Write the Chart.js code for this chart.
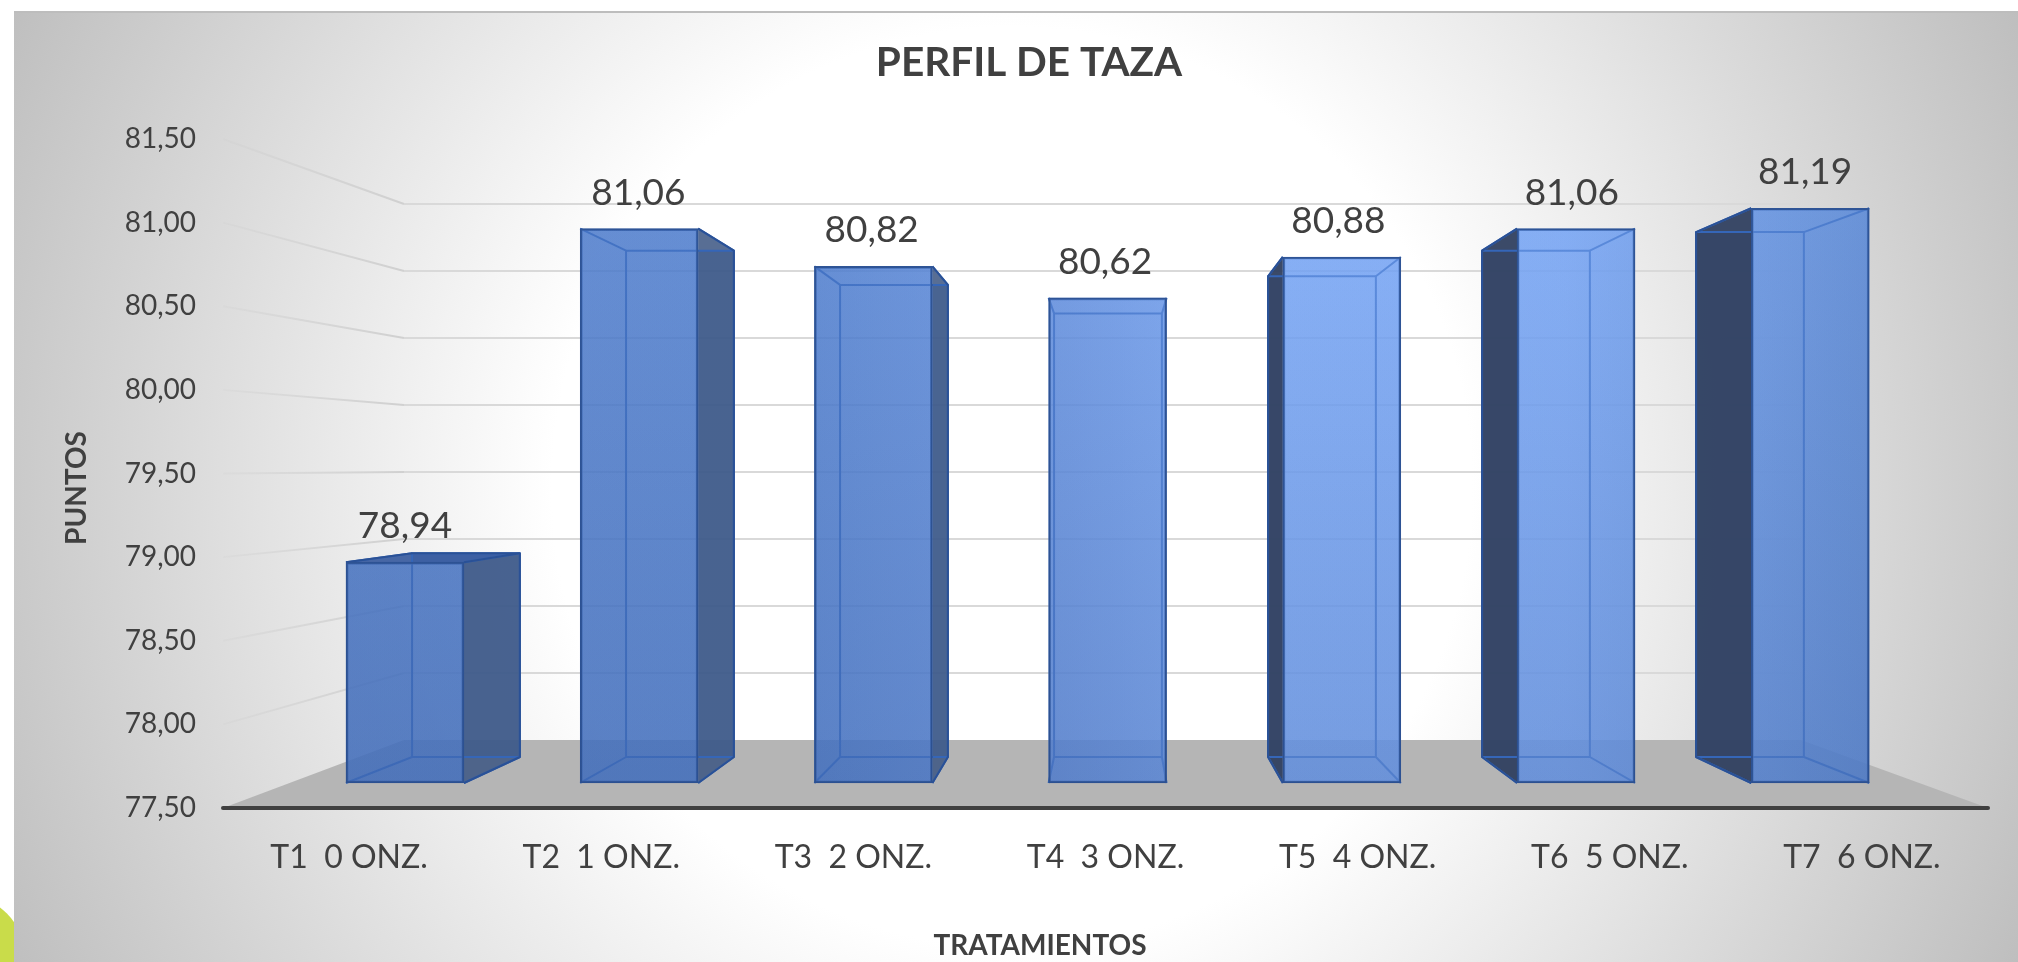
<!DOCTYPE html>
<html>
<head>
<meta charset="utf-8">
<title>Perfil de taza</title>
<script src="https://cdn.jsdelivr.net/npm/chart.js@4"></script>
<style>
  html, body { margin: 0; padding: 0; background: #fff; }
  canvas { display: block; }
</style>
</head>
<body>
<canvas id="chartTaza" width="2018" height="962"></canvas>
<script>
const categories = ['T1  0 ONZ.', 'T2  1 ONZ.', 'T3  2 ONZ.', 'T4  3 ONZ.', 'T5  4 ONZ.', 'T6  5 ONZ.', 'T7  6 ONZ.'];
const puntos = [78.94, 81.06, 80.82, 80.62, 80.88, 81.06, 81.19];
const valueLabels = ['78,94', '81,06', '80,82', '80,62', '80,88', '81,06', '81,19'];
const yTickLabels = ['77,50', '78,00', '78,50', '79,00', '79,50', '80,00', '80,50', '81,00', '81,50'];

const FONT = 'Lato, Carlito, sans-serif';
const TEXT = '#404040';

// how the flat scales map on to the 3d box
const wall = { left: 404, right: 1801, floor: 740, ratio: 536 / 669 };
const depth = { xk: 0.9137, xa: 95.95, yk: 0.9072, ya: 43.2, floor: 757 };

const backX = x => depth.xa + depth.xk * x;
const backY = y => depth.ya + depth.yk * y;

function barFill(ctx, alpha) {
  const g = ctx.createLinearGradient(346, 0, 1869, 0);
  const a = alpha;
  g.addColorStop(0, `rgba(78,124,204,${a})`);
  g.addColorStop(0.3, `rgba(78,126,208,${a})`);
  g.addColorStop(0.47, `rgba(98,144,226,${a})`);
  g.addColorStop(0.6, `rgba(118,166,248,${a})`);
  g.addColorStop(0.8, `rgba(118,166,248,${a})`);
  g.addColorStop(1, `rgba(90,138,218,${a})`);
  return g;
}

function poly(ctx, pts) {
  ctx.beginPath();
  pts.forEach((p, i) => i ? ctx.lineTo(p[0], p[1]) : ctx.moveTo(p[0], p[1]));
  ctx.closePath();
}

const panel = {
  id: 'panel',
  beforeDraw(chart) {
    const ctx = chart.ctx;
    // corner of the green shape behind the chart
    ctx.save();
    ctx.fillStyle = '#c9dc4a';
    ctx.beginPath();
    ctx.arc(-40, 960, 66, 0, Math.PI * 2);
    ctx.fill();

    const g = ctx.createRadialGradient(1012, 487, 460, 1012, 487, 1115);
    g.addColorStop(0, '#ffffff');
    g.addColorStop(1, '#bebebe');
    ctx.fillStyle = g;
    ctx.fillRect(14, 11, 2004, 951);
    ctx.fillStyle = '#bdbdbd';
    ctx.fillRect(14, 11, 2004, 2);
    ctx.restore();
  }
};

// back wall, side wall and floor
const room = {
  id: 'room',
  beforeDatasetsDraw(chart) {
    const ctx = chart.ctx;
    const y = chart.scales.y;
    const a = chart.chartArea;
    const toWall = py => wall.floor - (a.bottom - py) * wall.ratio;
    ctx.save();
    poly(ctx, [[a.left, a.bottom], [wall.left, wall.floor], [wall.right, wall.floor], [a.right, a.bottom]]);
    ctx.fillStyle = '#b5b5b5';
    ctx.fill();
    ctx.lineWidth = 2;
    y.ticks.forEach((t, i) => {
      if (i === 0) return;
      const py = y.getPixelForValue(t.value);
      const wy = toWall(py);
      const fade = ctx.createLinearGradient(a.left, 0, wall.left, 0);
      fade.addColorStop(0, 'rgba(200,200,200,0.15)');
      fade.addColorStop(1, 'rgba(208,208,208,1)');
      ctx.strokeStyle = fade;
      ctx.beginPath();
      ctx.moveTo(a.left, py);
      ctx.lineTo(wall.left, wy);
      ctx.stroke();
      ctx.strokeStyle = '#d9d9d9';
      ctx.beginPath();
      ctx.moveTo(wall.left, wy);
      ctx.lineTo(wall.right, wy);
      ctx.stroke();
    });
    // axis line sits centred on the front edge of the floor
    ctx.strokeStyle = '#404040';
    ctx.lineWidth = 4;
    ctx.lineCap = 'round';
    ctx.beginPath();
    ctx.moveTo(a.left, a.bottom);
    ctx.lineTo(a.right, a.bottom);
    ctx.stroke();
    ctx.restore();
  }
};

// the faces behind the front of each bar; the front itself is the bar element
const boxes = {
  id: 'boxes',
  beforeDatasetsDraw(chart) {
    const ctx = chart.ctx;
    const under = barFill(ctx, 0.62);
    ctx.save();
    ctx.lineJoin = 'round';
    chart.getDatasetMeta(0).data.forEach(bar => {
      const fl = bar.x - bar.width / 2, fr = bar.x + bar.width / 2;
      const bl = backX(fl), br = backX(fr);
      const ft = bar.y, fb = bar.base;
      const bt = backY(ft), bb = depth.floor;

      // back face and inner walls, one layer of colour
      ctx.beginPath();
      ctx.rect(fl, ft, fr - fl, fb - ft);
      ctx.rect(bl, bt, br - bl, bb - bt);
      ctx.fillStyle = under;
      ctx.fill();

      if (br > fr + 1) {
        poly(ctx, [[fr, ft], [br, bt], [br, bb], [fr, fb]]);
        ctx.fillStyle = 'rgba(60,86,130,0.86)';
        ctx.fill();
      }
      if (bl < fl - 1) {
        poly(ctx, [[fl, ft], [bl, bt], [bl, bb], [fl, fb]]);
        ctx.fillStyle = 'rgba(48,64,96,0.95)';
        ctx.fill();
      }
      if (bt < ft) {
        poly(ctx, [[fl, ft], [fr, ft], [br, bt], [bl, bt]]);
        ctx.fillStyle = 'rgba(52,88,156,0.9)';
        ctx.fill();
      }

      ctx.strokeStyle = '#3566b8';
      ctx.lineWidth = 2;
      poly(ctx, [[bl, bt], [br, bt], [br, bb], [bl, bb]]);
      ctx.stroke();
      ctx.beginPath();
      [[fl, ft, bl, bt], [fr, ft, br, bt], [fl, fb, bl, bb], [fr, fb, br, bb]].forEach(s => {
        ctx.moveTo(s[0], s[1]);
        ctx.lineTo(s[2], s[3]);
      });
      ctx.stroke();
      // outer edges of the side walls
      ctx.strokeStyle = '#2a5196';
      ctx.beginPath();
      if (br > fr + 1) { ctx.moveTo(fr, ft); ctx.lineTo(br, bt); ctx.lineTo(br, bb); ctx.lineTo(fr, fb); }
      if (bl < fl - 1) { ctx.moveTo(fl, ft); ctx.lineTo(bl, bt); ctx.lineTo(bl, bb); ctx.lineTo(fl, fb); }
      if (bt < ft) { ctx.moveTo(fl, ft); ctx.lineTo(bl, bt); ctx.lineTo(br, bt); ctx.lineTo(fr, ft); }
      ctx.stroke();
    });
    ctx.restore();
  },
  afterDatasetsDraw(chart) {
    const ctx = chart.ctx;
    const a = chart.chartArea;
    const shade = ctx.createLinearGradient(0, a.top, 0, a.bottom);
    shade.addColorStop(0, 'rgba(30,60,120,0)');
    shade.addColorStop(1, 'rgba(30,60,120,0.2)');
    ctx.save();
    ctx.font = `37px ${FONT}`;
    ctx.textAlign = 'center';
    ctx.textBaseline = 'middle';
    chart.getDatasetMeta(0).data.forEach((bar, i) => {
      ctx.fillStyle = shade;
      ctx.fillRect(bar.x - bar.width / 2, bar.y, bar.width, bar.base - bar.y);
      ctx.fillStyle = TEXT;
      ctx.fillText(valueLabels[i], bar.x - i * 0.85, bar.y - 36);
    });
    ctx.restore();
  }
};

const axisTitles = {
  id: 'axisTitles',
  afterDraw(chart) {
    const ctx = chart.ctx;
    ctx.save();
    ctx.fillStyle = TEXT;
    ctx.font = `bold 28px ${FONT}`;
    ctx.textAlign = 'center';
    ctx.textBaseline = 'middle';
    ctx.fillText('TRATAMIENTOS', 1040, 946);
    ctx.translate(77, 488);
    ctx.rotate(-Math.PI / 2);
    ctx.fillText('PUNTOS', 0, 0);
    ctx.restore();
  }
};

new Chart(document.getElementById('chartTaza'), {
  type: 'bar',
  data: {
    labels: categories,
    datasets: [{
      label: 'PUNTOS',
      data: puntos.map((v, i) => ({ x: i, y: v })),
      xAxisID: 'xBar',
      yAxisID: 'yBar',
      base: 77.536,
      barThickness: 118,
      backgroundColor: c => barFill(c.chart.ctx, 0.62),
      borderColor: '#2f5597',
      borderWidth: 2,
      borderSkipped: false
    }]
  },
  options: {
    responsive: false,
    animation: false,
    layout: { padding: { left: 70, right: 30, top: 0, bottom: 0 } },
    plugins: {
      legend: { display: false },
      tooltip: { enabled: false },
      title: {
        display: true,
        text: 'PERFIL DE TAZA',
        color: TEXT,
        font: { family: FONT, size: 40.5, weight: 'bold' },
        padding: { top: 39, bottom: 51.4 }
      }
    },
    scales: {
      x: {
        type: 'category',
        offset: true,
        afterFit(s) { s.height = 154; },
        grid: { display: false },
        border: { display: false },
        ticks: { color: TEXT, font: { family: FONT, size: 32 }, padding: 22, maxRotation: 0, autoSkip: false }
      },
      y: {
        type: 'linear',
        min: 77.5,
        max: 81.5,
        afterFit(s) { s.width = 153; },
        grid: { display: false },
        border: { display: false },
        ticks: {
          stepSize: 0.5,
          color: TEXT,
          font: { family: FONT, size: 28 },
          padding: 19,
          callback: (v, i) => yTickLabels[i]
        }
      },
      xBar: { type: 'linear', display: false, offset: false, min: -0.777, max: 6.759 },
      yBar: { type: 'linear', display: false, min: 77.377, max: 81.63 }
    }
  },
  plugins: [panel, room, boxes, axisTitles]
});
</script>
</body>
</html>
